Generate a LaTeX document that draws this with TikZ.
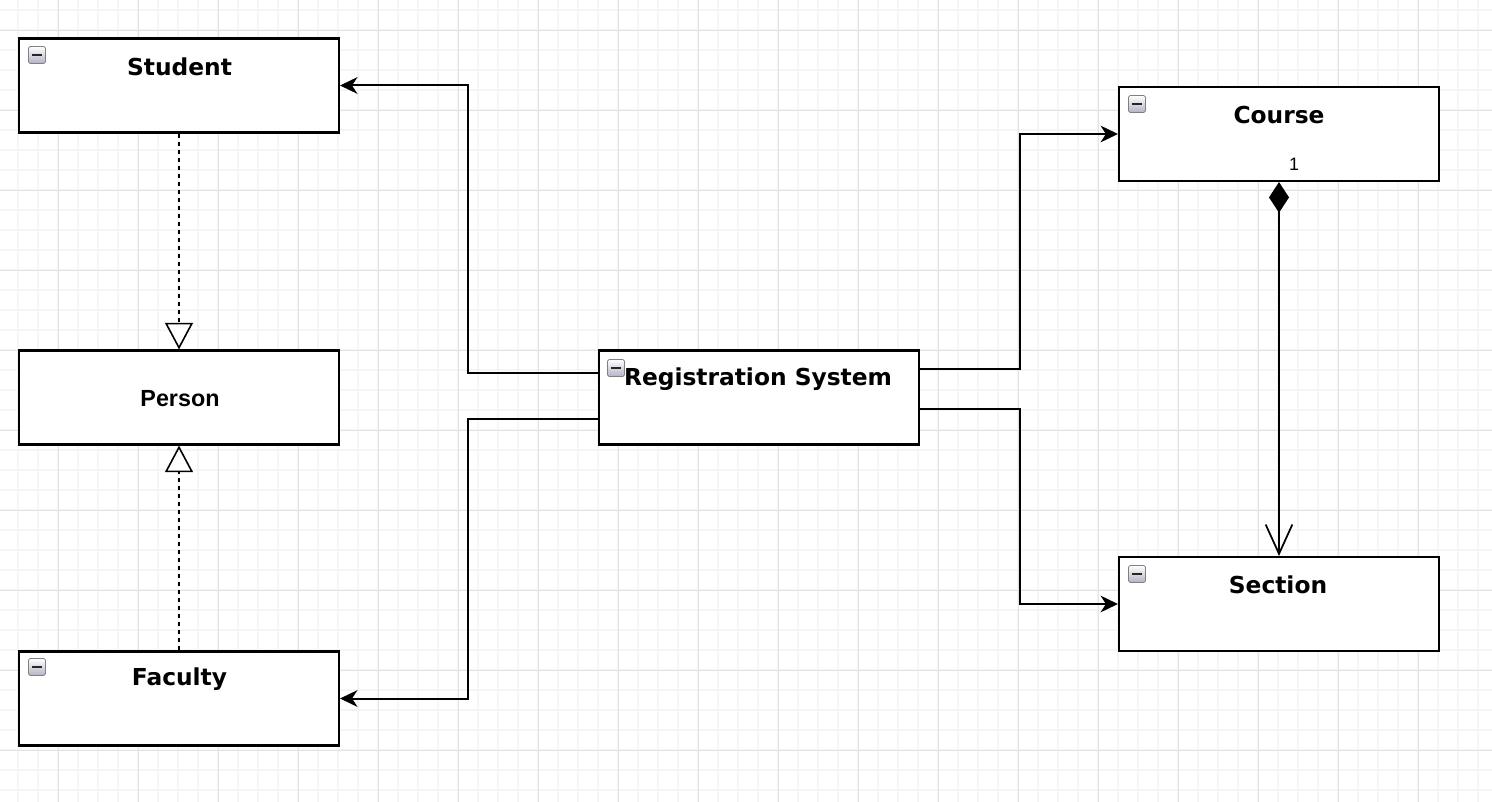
\documentclass[tikz,border=0pt]{standalone}
\usepackage{fontspec}
\setmainfont{DejaVu Sans}
\newfontfamily\arialfont{Liberation Sans}
\usetikzlibrary{arrows.meta,calc}
\tikzset{
  classbox/.style={draw=black, line width=1.6pt, fill=white, minimum width=240pt, minimum height=70.5pt, inner sep=0pt},
  titletext/.style={font=\bfseries\fontsize{17.5}{20}\selectfont, inner sep=0pt},
  persontext/.style={font=\arialfont\bfseries\fontsize{17.5}{20}\selectfont, inner sep=0pt},
  conn/.style={line width=1.5pt, draw=black},
  assoc/.style={conn, -{Stealth[length=13pt, width=12.5pt, inset=4pt]}},
  realize/.style={conn, dash pattern=on 3pt off 3pt, -{Triangle[open, length=20pt, width=21pt, fill=white, line width=1.2pt]}},
  compose/.style={conn, {Diamond[length=23pt, width=15pt]}-{Straight Barb[length=22pt, width=20pt, line width=1.3pt]}},
  minorgrid/.style={draw=black!4, line width=0.8pt},
  majorgrid/.style={draw=black!11, line width=0.7pt},
  minusicon/.pic={
    \draw[rounded corners=1.2pt, draw=black!50, line width=0.6pt, top color=white, bottom color=blue!25!black!30] (-8.5,-8.5) rectangle (8.5,8.5);
    \draw[line width=1.9pt, draw=black!85] (-5,0) -- (5,0);
  }
}
\begin{document}
\begin{tikzpicture}[x=0.75pt, y=-0.75pt]
\useasboundingbox (0,0) rectangle (1492,802);
\fill[white] (0,0) rectangle (1492,802);
% grid
\foreach \x in {-2,18,...,1492} \draw[minorgrid] (\x,0) -- (\x,802);
\foreach \y in {10,30,...,802} \draw[minorgrid] (0,\y) -- (1492,\y);
\foreach \x in {58,138,...,1492} \draw[majorgrid] (\x,0) -- (\x,802);
\foreach \y in {30,110,...,802} \draw[majorgrid] (0,\y) -- (1492,\y);

% boxes
\node[classbox] (student) at (179,85.5) {};
\node[classbox] (person) at (179,397.5) {};
\node[classbox] (faculty) at (179,698.5) {};
\node[classbox] (rs) at (759,397.5) {};
\node[classbox] (course) at (1279,134) {};
\node[classbox] (section) at (1279,604) {};

% titles
\node[titletext] (studentT) at (179.5,67) {Student};
\node[persontext] (personT) at (180,399) {Person};
\node[titletext] (facultyT) at (179.5,679) {Faculty};
\node[titletext] (rsT) at (758,379) {Registration System};
\node[titletext] (courseT) at (1279,115) {Course};
\node[titletext] (sectionT) at (1278,585) {Section};
\node[font=\arialfont\fontsize{13.5}{15}\selectfont, inner sep=0pt] (mult) at (1294,164) {1};

% icons
\pic at (37,55) {minusicon};
\pic at (37,667) {minusicon};
\pic at (616,368) {minusicon};
\pic at (1137,104) {minusicon};
\pic at (1137,574) {minusicon};

% connectors
\coordinate (rsL1) at ($(rs.north west)+(0,24)$);
\coordinate (rsL2) at ($(rs.north west)+(0,70)$);
\coordinate (rsR1) at ($(rs.north east)+(0,20)$);
\coordinate (rsR2) at ($(rs.north east)+(0,60)$);
\draw[assoc] (rsL1) -- ++(-130,0) |- (student.east);
\draw[assoc] (rsL2) -- ++(-130,0) |- (faculty.east);
\draw[assoc] (rsR1) -- ++(100,0) |- (course.west);
\draw[assoc] (rsR2) -- ++(100,0) |- (section.west);
\draw[realize] (student.south) -- (person.north);
\draw[realize] (faculty.north) -- (person.south);
\draw[compose] (course.south) -- (section.north);
\end{tikzpicture}
\end{document}
